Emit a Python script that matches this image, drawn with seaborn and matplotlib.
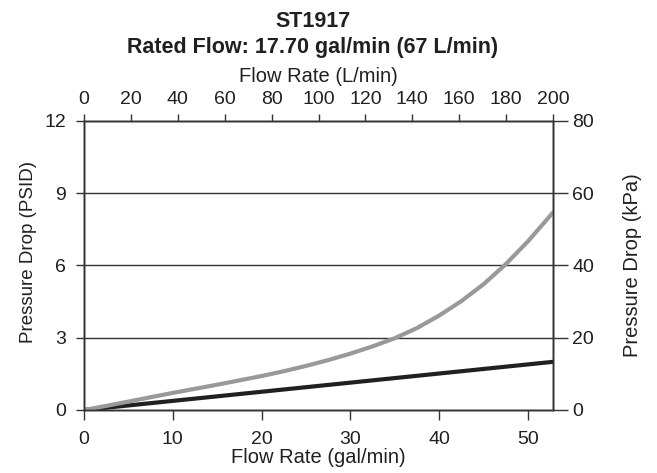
import numpy as np
import pandas as pd
import seaborn as sns
import matplotlib.pyplot as plt

# Values
flow_gpm = [0, 2.5, 5, 7.5, 10, 12.5, 15, 17.5, 20, 22.5, 25, 27.5, 30,
            32.5, 35, 37.5, 40, 42.5, 45, 47.5, 50, 52.83]
drop_grey = [0, 0.17, 0.35, 0.53, 0.71, 0.88, 1.05, 1.23, 1.41, 1.61, 1.83, 2.07, 2.34,
             2.64, 2.98, 3.40, 3.92, 4.52, 5.22, 6.05, 7.0, 8.2]
flow_black = [0, 52.83]
drop_black = [0, 2.0]

psi_ticks = [0, 3, 6, 9, 12]
kpa_ticks = [0, 20, 40, 60, 80]
gpm_ticks = [0, 10, 20, 30, 40, 50]
lpm_ticks = [0, 20, 40, 60, 80, 100, 120, 140, 160, 180, 200]

sns.set_style("ticks")
plt.rcParams['font.family'] = ['Liberation Sans', 'DejaVu Sans']

grey_df = pd.DataFrame({'gpm': flow_gpm, 'psi': drop_grey})
black_df = pd.DataFrame({'gpm': flow_black, 'psi': drop_black})

fig = plt.figure(figsize=(6.57, 4.73), dpi=100)
ax = fig.add_axes([0.1279, 0.1332, 0.7138, 0.611])

ink = '#231f20'
line_c = '#333333'
tick_fs = 14
lab_fs = 14.5

for y in [3, 6, 9]:
    ax.axhline(y, color=line_c, lw=1.0, zorder=1)

sns.lineplot(data=black_df, x='gpm', y='psi', color=ink, lw=3.0, ax=ax, zorder=3)
sns.lineplot(data=grey_df, x='gpm', y='psi', color='#999999', lw=3.0, ax=ax, zorder=4)

ax.set_xlim(0, 52.83)
ax.set_ylim(0, 12)
ax.set_xticks(gpm_ticks)
ax.set_yticks(psi_ticks)
ax.set_xlabel('Flow Rate (gal/min)', fontsize=lab_fs, color=ink, labelpad=0)
ax.set_ylabel('Pressure Drop (PSID)', fontsize=13.5, color=ink)
ax.yaxis.set_label_coords(-0.100, 0.548)

ax_r = ax.twinx()
ax_r.set_ylim(0, 80)
ax_r.set_yticks(kpa_ticks)
ax_r.set_ylabel('Pressure Drop (kPa)', fontsize=lab_fs, color=ink, labelpad=21)

ax_t = ax.twiny()
ax_t.set_xlim(0, 200)
ax_t.set_xticks(lpm_ticks)
ax_t.set_xlabel('Flow Rate (L/min)', fontsize=lab_fs, color=ink, labelpad=7)

for a in [ax, ax_r, ax_t]:
    for s in a.spines.values():
        s.set_color(line_c)
        s.set_linewidth(1.0)

ax.tick_params(axis='x', direction='out', length=7, width=1.0, color=line_c,
               labelcolor=ink, labelsize=tick_fs, pad=8)
ax.tick_params(axis='y', direction='out', length=6, width=1.0, color=line_c,
               labelcolor=ink, labelsize=tick_fs, pad=7)
ax_r.tick_params(axis='y', direction='out', length=11, width=1.0, color=line_c,
                 labelcolor=ink, labelsize=tick_fs, pad=3)
ax_t.tick_params(axis='x', direction='out', length=5, width=1.0, color=line_c,
                 labelcolor=ink, labelsize=tick_fs, pad=4)

fig.text(0.476, 0.9436, 'ST1917', ha='center', va='baseline', fontsize=15.5,
         fontweight='bold', color=ink)
fig.text(0.476, 0.8886, 'Rated Flow: 17.70 gal/min (67 L/min)', ha='center', va='baseline',
         fontsize=15.5, fontweight='bold', color=ink)

fig.savefig('out.png', dpi=100)
